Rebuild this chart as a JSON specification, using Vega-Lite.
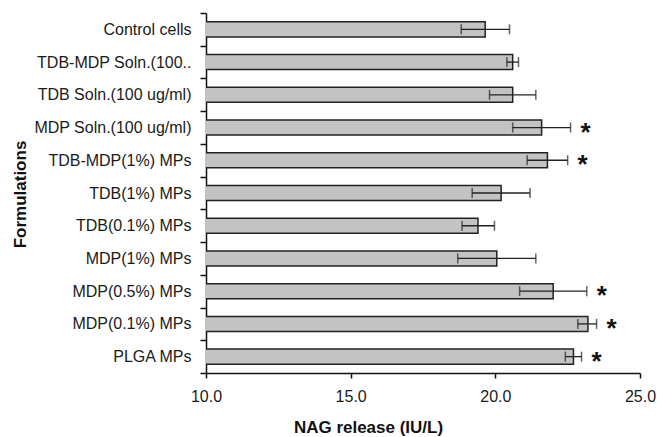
{
  "$schema": "https://vega.github.io/schema/vega-lite/v6.json",
  "autosize": {"type": "none"},
  "width": 434,
  "height": 360,
  "padding": {"left": 206, "top": 13, "right": 17, "bottom": 64},
  "background": "white",
  "config": {
    "view": {"stroke": null},
    "font": "Liberation Sans"
  },
  "data": {
    "values": [
      {"formulation": "Control cells", "mean": 19.65, "lo": 18.82, "hi": 20.49, "sig": ""},
      {"formulation": "TDB-MDP Soln.(100..", "mean": 20.6, "lo": 20.4, "hi": 20.8, "sig": ""},
      {"formulation": "TDB Soln.(100 ug/ml)", "mean": 20.6, "lo": 19.8, "hi": 21.4, "sig": ""},
      {"formulation": "MDP Soln.(100 ug/ml)", "mean": 21.6, "lo": 20.6, "hi": 22.6, "sig": "*"},
      {"formulation": "TDB-MDP(1%) MPs", "mean": 21.8, "lo": 21.1, "hi": 22.5, "sig": "*"},
      {"formulation": "TDB(1%) MPs", "mean": 20.2, "lo": 19.2, "hi": 21.2, "sig": ""},
      {"formulation": "TDB(0.1%) MPs", "mean": 19.4, "lo": 18.85, "hi": 19.97, "sig": ""},
      {"formulation": "MDP(1%) MPs", "mean": 20.05, "lo": 18.7, "hi": 21.4, "sig": ""},
      {"formulation": "MDP(0.5%) MPs", "mean": 22.0, "lo": 20.84, "hi": 23.16, "sig": "*"},
      {"formulation": "MDP(0.1%) MPs", "mean": 23.2, "lo": 22.85, "hi": 23.5, "sig": "*"},
      {"formulation": "PLGA MPs", "mean": 22.7, "lo": 22.42, "hi": 22.98, "sig": "*"}
    ]
  },
  "encoding": {
    "y": {
      "field": "formulation",
      "type": "nominal",
      "sort": null,
      "scale": {"paddingInner": 0, "paddingOuter": 0},
      "axis": {
        "title": "Formulations",
        "titleFont": "Liberation Sans",
        "titleFontWeight": "bold",
        "titleFontSize": 17,
        "titleColor": "#111",
        "titleAngle": -90,
        "titleX": -186,
        "titleY": 181,
        "titleAlign": "center",
        "titleBaseline": "middle",
        "labelFont": "Liberation Sans",
        "labelFontSize": 16,
        "labelColor": "#1a1a1a",
        "labelPadding": 9,
        "tickSize": 6,
        "tickBand": "extent",
        "tickColor": "#111",
        "tickWidth": 1.5,
        "domainColor": "#111",
        "domainWidth": 1.5,
        "labelLimit": 300
      }
    }
  },
  "layer": [
    {
      "mark": {"type": "bar", "fill": "#c3c3c3", "stroke": "#222", "strokeWidth": 1.5, "clip": true, "height": {"band": 0.46}},
      "encoding": {
        "x": {
          "field": "mean",
          "type": "quantitative",
          "scale": {"domain": [10, 25], "zero": false, "nice": false},
          "axis": {
            "values": [10, 15, 20, 25],
            "format": ".1f",
            "title": "NAG release (IU/L)",
            "titleFont": "Liberation Sans",
            "titleFontWeight": "bold",
            "titleFontSize": 17,
            "titleColor": "#111",
            "titleX": 162,
            "titleY": 54,
            "titleAlign": "center",
            "titleBaseline": "middle",
            "labelFont": "Liberation Sans",
            "labelFontSize": 16,
            "labelColor": "#1a1a1a",
            "labelPadding": 10,
            "labelFlush": false,
            "tickSize": 5,
            "tickColor": "#111",
            "tickWidth": 1.5,
            "domainColor": "#111",
            "domainWidth": 1.5,
            "grid": false
          }
        }
      }
    },
    {
      "mark": {"type": "rule", "color": "#222", "strokeWidth": 1.3},
      "encoding": {
        "x": {"field": "lo", "type": "quantitative"},
        "x2": {"field": "hi"}
      }
    },
    {
      "mark": {"type": "tick", "orient": "vertical", "color": "#222", "thickness": 1.5, "size": 10},
      "encoding": {
        "x": {"field": "lo", "type": "quantitative"}
      }
    },
    {
      "mark": {"type": "tick", "orient": "vertical", "color": "#222", "thickness": 1.5, "size": 10},
      "encoding": {
        "x": {"field": "hi", "type": "quantitative"}
      }
    },
    {
      "transform": [{"filter": "datum.sig != ''"}],
      "mark": {"type": "text", "font": "Liberation Sans", "fontSize": 26, "fontWeight": "bold", "dx": 15, "dy": 5, "align": "center", "baseline": "middle", "color": "#111"},
      "encoding": {
        "x": {"field": "hi", "type": "quantitative"},
        "text": {"field": "sig"}
      }
    }
  ]
}
